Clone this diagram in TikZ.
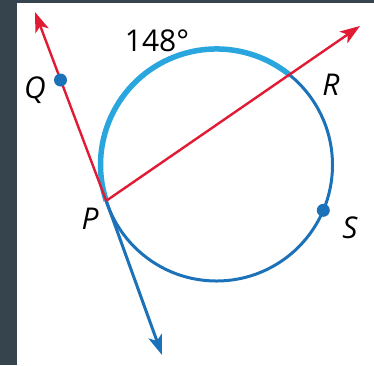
\documentclass[tikz,border=0pt]{standalone}
\usepackage{fontspec}
\setsansfont{Open Sans}
\usetikzlibrary{arrows.meta}
\definecolor{slate}{HTML}{36444E}
\definecolor{rayred}{HTML}{E21B35}
\definecolor{arcblue}{HTML}{29A6DE}
\definecolor{circblue}{HTML}{1C72B8}

\begin{document}
\begin{tikzpicture}[x=1pt,y=-1pt,
  redray/.style={line width=2.4pt,color=rayred,-{Stealth[length=20pt,width=14pt,inset=5pt]}},
  blueray/.style={line width=3pt,color=circblue,-{Stealth[length=20pt,width=14pt,inset=5pt]}},
  ptdot/.style={circle,fill=circblue,inner sep=0pt,minimum size=13pt},
  lbl/.style={inner sep=0pt,font=\sffamily\fontsize{30}{33}\selectfont}]
\path[use as bounding box] (0,0) rectangle (374,365);
\fill[slate] (0,0) rectangle (374,365);
\fill[white] (17,3) rectangle (374,365);
% circle and the 148 degree arc
\coordinate (O) at (216.5,165);
\coordinate (P) at (106.2,200.8);
\coordinate (R) at (289.5,74.9);
\coordinate (S) at (323.3,210.3);
\coordinate (Qtip) at (35,12);
\coordinate (Rtip) at (360,26);
\coordinate (Ptip) at (162,355);
\draw[line width=3pt,circblue] (O) circle[radius=116];
\draw[line width=5.5pt,arcblue] (P) arc[start angle=162,end angle=309.4,radius=116];
% rays
\draw[blueray] (P) -- (Ptip);
\draw[redray] (P) -- (Qtip);
\draw[redray] (P) -- (Rtip);
\node[ptdot] (Q) at (60.5,80) {};
\node[ptdot] (Sdot) at (S) {};
% labels
\node[lbl] (arclbl) at (157,41) {148°};
\node[lbl] (Qlbl) at (35,90) {\itshape Q};
\node[lbl] (Rlbl) at (331,85) {\itshape R};
\node[lbl] (Plbl) at (90,219) {\itshape P};
\node[lbl] (Slbl) at (350,228) {\itshape S};
\end{tikzpicture}
\end{document}
